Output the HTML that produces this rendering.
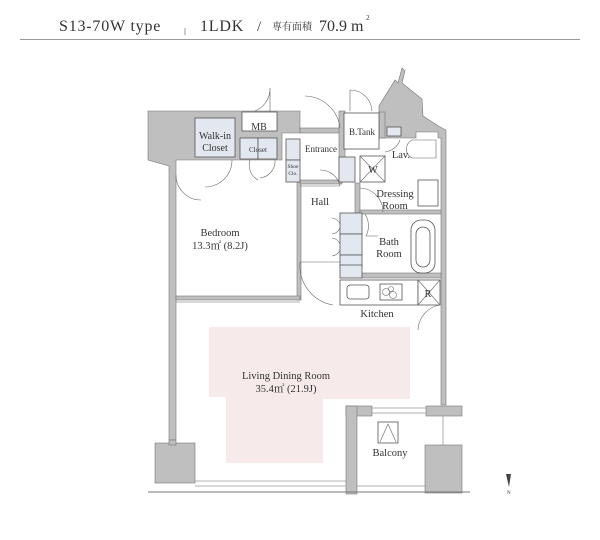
<!DOCTYPE html>
<html><head><meta charset="utf-8"><style>
html,body{margin:0;padding:0;background:#fff;width:600px;height:540px;overflow:hidden}
svg{display:block}
.s{font-family:"Liberation Serif","Noto Serif CJK SC",serif;fill:#333}
</style></head><body>
<svg width="600" height="540" viewBox="0 0 600 540" xmlns="http://www.w3.org/2000/svg">
<!-- header -->
<text class="s" x="59" y="31" font-size="16" letter-spacing="0.8">S13-70W type</text>
<line x1="185" y1="28" x2="185" y2="35" stroke="#999" stroke-width="1"/>
<text class="s" x="200" y="31" font-size="16" letter-spacing="0.8">1LDK</text>
<text class="s" x="257" y="31" font-size="15">/</text>
<text class="s" x="272" y="30" font-size="10">専有面積</text>
<text class="s" x="319" y="31" font-size="16">70.9 m</text>
<text class="s" x="366" y="20" font-size="7">2</text>
<line x1="20" y1="39.5" x2="580" y2="39.5" stroke="#999" stroke-width="1"/>

<!-- LDR pink -->
<polygon points="209,327 410,327 410,399 323,399 323,463 226,463 226,397 209,397" fill="#f7eaea"/>

<g fill="#bfbfbf" stroke="#777" stroke-width="0.6">
<polygon points="148,111 300,111 300,133 282,133 282,160 176,160 176,440 169,440 169,166 148,160"/>
<rect x="297" y="180" width="4" height="120"/>
<rect x="176" y="296" width="124" height="4"/>
<rect x="300" y="128" width="40" height="5"/>
<rect x="339" y="111" width="6" height="70"/>
<rect x="300" y="180" width="42" height="4"/>
<!-- upper right diagonal -->
<polygon points="379,138 379,106 395,80 398,83 402,68 405,71 402,83 422,99 423,116 440,127 446,130 446,405 441,405 441,138 438,138 438,132 416,132 416,138"/>
<rect x="379" y="112" width="6" height="26"/>
<rect x="355" y="183" width="5" height="30"/>
<rect x="360" y="210" width="81" height="4"/>
<rect x="360" y="273" width="81" height="5"/>
<rect x="426" y="406" width="36" height="10"/>
<rect x="346" y="406" width="26" height="10"/>
<rect x="346" y="406" width="11" height="88"/>
<rect x="425" y="445" width="37" height="48"/>
<rect x="155" y="443" width="40" height="40"/>
<rect x="169" y="440" width="7" height="5"/>
</g>
<line x1="148" y1="492" x2="470" y2="492" stroke="#777" stroke-width="1"/>
<line x1="195" y1="481" x2="346" y2="481" stroke="#999" stroke-width="0.8"/>
<line x1="195" y1="486" x2="346" y2="486" stroke="#999" stroke-width="0.8"/>
<line x1="357" y1="486" x2="425" y2="486" stroke="#999" stroke-width="0.8"/>
<line x1="372" y1="408" x2="426" y2="408" stroke="#999" stroke-width="0.8"/>
<line x1="372" y1="413" x2="426" y2="413" stroke="#999" stroke-width="0.8"/>
<line x1="443" y1="416" x2="443" y2="445" stroke="#999" stroke-width="0.8"/>

<g fill="#e3e8f0" stroke="#555" stroke-width="0.8">
<rect x="195" y="118" width="40" height="39"/>
<rect x="240" y="138" width="18" height="21"/><rect x="258" y="138" width="19" height="21"/>
<rect x="286" y="139" width="14" height="21"/><rect x="286" y="160" width="14" height="22"/>
<rect x="339" y="157" width="16" height="25"/>
<rect x="387" y="127" width="14" height="9"/>
<rect x="340" y="213" width="22" height="21"/><rect x="340" y="234" width="22" height="21"/><rect x="340" y="255" width="22" height="12"/><rect x="340" y="265" width="22" height="13"/>
</g>
<g fill="#fff" stroke="#555" stroke-width="0.8">
<rect x="242" y="112" width="35" height="19"/>
<rect x="344" y="113" width="35" height="36"/>
<rect x="360" y="156" width="25" height="26"/>
<rect x="411" y="220" width="24" height="53" rx="10"/>
<rect x="416" y="227" width="14" height="40" rx="7"/>
<rect x="418" y="180" width="20" height="26"/>
<rect x="340" y="280" width="78" height="25"/>
<rect x="347" y="285" width="22" height="14" rx="3"/>
<rect x="380" y="284" width="22" height="16"/>
<rect x="418" y="280" width="22" height="25"/>
<rect x="378" y="422" width="20" height="21"/>
</g>
<g stroke="#666" stroke-width="0.6" fill="none">
<path d="M360,156 L385,182 M385,156 L360,182"/>
<path d="M418,280 L440,305 M440,280 L418,305"/>
<path d="M380,442 L388,424 L396,442"/>
<circle cx="386" cy="292" r="3.5"/><circle cx="393" cy="295" r="3.5"/><circle cx="391" cy="289" r="2.5"/>
<path d="M270,112 L270,88 A24,24 0 0 1 255,111"/>
<path d="M176,175 A25,25 0 0 0 201,200"/>
<path d="M232,160 A27,27 0 0 1 205,187"/>
<path d="M250,160 A17,17 0 0 0 258,180 M275,160 A17,17 0 0 1 260,178"/>
<path d="M340,128 A36,36 0 0 0 305,96"/>
<path d="M350,111 L350,90 A22,22 0 0 1 372,111"/>
<path d="M340,186 A20,20 0 0 0 320,170 M340,186 L300,186"/>
<path d="M340,224 A10,10 0 0 0 332,218 M340,228 A10,10 0 0 1 332,234 M340,244 A10,10 0 0 0 332,238 M340,250 A10,10 0 0 1 332,256"/>
<path d="M300,262 L340,262 M300,262 A40,40 0 0 0 333,305"/>
<path d="M360,188 A24,24 0 0 1 383,212"/>
<path d="M365,214 A22,22 0 0 1 366,236 L378,236"/>
<path d="M400,140 A18,18 0 0 1 385,152"/>
<path d="M440,305 A26,26 0 0 0 418,330"/>
<path d="M412,140 A10,10 0 0 0 412,158 L436,158 L436,140 Z"/>
<line x1="176" y1="302" x2="300" y2="302"/>
</g>

<g class="s" font-size="10.5" text-anchor="middle">
<text x="215" y="139" font-size="10">Walk-in</text><text x="215" y="151" font-size="10">Closet</text>
<text x="259" y="130" font-size="10">MB</text>
<text x="258" y="152" font-size="7">Closet</text>
<text x="293" y="168" font-size="5.5">Shoe</text><text x="293" y="175" font-size="5.5">Clo.</text>
<text x="321" y="152" font-size="9">Entrance</text>
<text x="362" y="135" font-size="9">B.Tank</text>
<text x="373" y="173" font-size="10">W</text>
<text x="401" y="158">Lav.</text>
<text x="395" y="197">Dressing</text><text x="395" y="209">Room</text>
<text x="320" y="205">Hall</text>
<text x="220" y="236">Bedroom</text><text x="220" y="249">13.3㎡ (8.2J)</text>
<text x="389" y="245">Bath</text><text x="389" y="257">Room</text>
<text x="428" y="297" font-size="10">R</text>
<text x="377" y="317">Kitchen</text>
<text x="286" y="379">Living Dining Room</text><text x="286" y="392">35.4㎡ (21.9J)</text>
<text x="390" y="456">Balcony</text>
</g>
<polygon points="506,474 511,474 509,487" fill="#444"/>
<text class="s" x="507" y="494" font-size="5">N</text>
</svg>
</body></html>
